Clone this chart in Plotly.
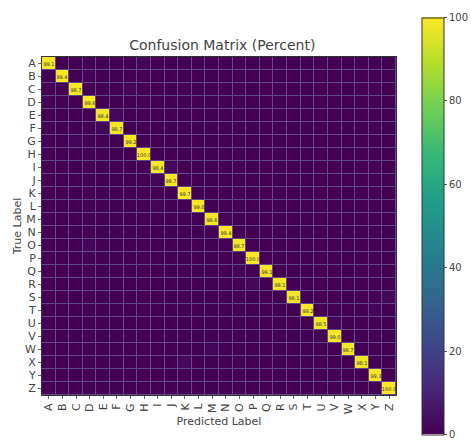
import plotly.graph_objects as go

labels = list("ABCDEFGHIJKLMNOPQRSTUVWXYZ")
diag_values = [99.1, 99.4, 98.7, 99.6, 98.4, 98.7, 99.2, 100.0, 98.4, 98.7,
               99.7, 99.0, 98.6, 99.4, 98.7, 100.0, 99.1, 98.1, 98.1, 99.2,
               98.5, 99.0, 98.7, 98.1, 99.3, 100.0]
# (true index, predicted index, percent) for the small off-diagonal confusions
confusions = [(0, 7, 0.9), (1, 3, 0.6), (2, 6, 1.3), (3, 1, 0.4), (4, 5, 1.6),
              (5, 4, 1.3), (6, 2, 0.8), (8, 9, 1.6), (9, 8, 1.3), (10, 23, 0.3),
              (11, 8, 1.0), (12, 13, 1.4), (13, 12, 0.6), (14, 3, 1.3),
              (16, 14, 0.9), (17, 15, 1.9), (18, 25, 1.9), (19, 24, 0.8),
              (20, 21, 1.5), (21, 20, 1.0), (22, 12, 1.3), (23, 10, 1.9),
              (24, 21, 0.7)]

n = len(labels)
z = [[0.0] * n for _ in range(n)]
txt = [[""] * n for _ in range(n)]
for i, v in enumerate(diag_values):
    z[i][i] = v
    txt[i][i] = f"{v:.1f}"
for t, p, v in confusions:
    z[t][p] = v

fig = go.Figure(go.Heatmap(
    z=z, x=labels, y=labels, text=txt, texttemplate="%{text}",
    textfont=dict(size=5, color="#333333", family="DejaVu Sans"),
    colorscale="Viridis", zmin=0, zmax=100, xgap=1, ygap=1,
    hoverinfo="skip",
    colorbar=dict(
        x=1.073, xanchor="left", xpad=0, ypad=0, y=0.5, yanchor="middle",
        lenmode="pixels", len=417, thicknessmode="pixels", thickness=22,
        outlinecolor="#333333", outlinewidth=1,
        tickvals=[0, 20, 40, 60, 80, 100], ticks="outside", ticklen=3,
        tickcolor="#555555",
        tickfont=dict(size=10, color="#444444", family="DejaVu Sans"),
    ),
))

fig.update_layout(
    width=471, height=443,
    margin=dict(l=42, r=75, t=57, b=48, autoexpand=False),
    paper_bgcolor="white", plot_bgcolor="#64488c",
    font=dict(family="DejaVu Sans", color="#444444"),
    title=dict(text="Confusion Matrix (Percent)", x=0.472, xanchor="center",
               y=1 - 45 / 443, yanchor="middle",
               font=dict(size=14, color="#444444")),
)
fig.update_xaxes(
    tickmode="array", tickvals=labels, ticktext=labels, automargin=False,
    tickangle=-90, tickfont=dict(size=11, color="#444444"),
    ticks="outside", ticklen=3, tickcolor="#666666",
    showgrid=False, zeroline=False, showline=True, linecolor="#333333", mirror=True,
    title=dict(text="Predicted Label", font=dict(size=11, color="#444444"), standoff=4),
)
fig.update_yaxes(
    tickmode="array", tickvals=labels, ticktext=labels, automargin=False,
    autorange="reversed", tickfont=dict(size=11, color="#444444"),
    ticks="outside", ticklen=3, tickcolor="#666666",
    showgrid=False, zeroline=False, showline=True, linecolor="#333333", mirror=True,
    title=dict(text="True Label", font=dict(size=11, color="#444444"), standoff=1),
)

fig.write_html("out.html", config={"displayModeBar": False},
               post_script="document.body.style.margin='0';document.body.style.overflow='hidden';")
